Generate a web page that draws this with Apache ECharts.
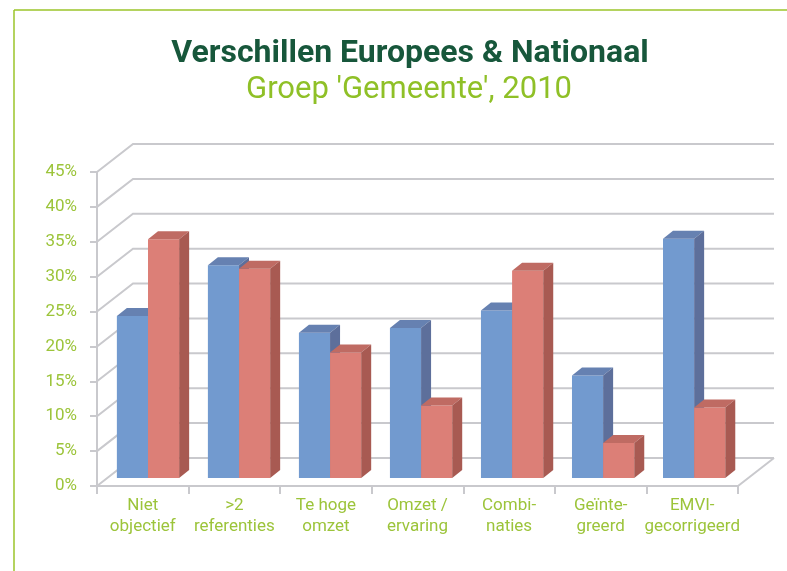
<!DOCTYPE html>
<html>
<head>
<meta charset="utf-8">
<script src="https://cdn.jsdelivr.net/npm/echarts@6/dist/echarts.min.js"></script>
<style>
  html, body { margin: 0; padding: 0; background: #fff; }
  #chart { width: 787px; height: 571px; }
</style>
</head>
<body>
<div id="chart"></div>
<script>
// data
var categories = ['Niet\nobjectief', '>2\nreferenties', 'Te hoge\nomzet', 'Omzet /\nervaring',
                  'Combi-\nnaties', 'Geïnte-\ngreerd', 'EMVI-\ngecorrigeerd'];
var europees  = [0.232, 0.305, 0.208, 0.215, 0.240, 0.147, 0.343];
var nationaal = [0.342, 0.300, 0.180, 0.104, 0.297, 0.050, 0.101];
var yTicks = [0, 0.05, 0.10, 0.15, 0.20, 0.25, 0.30, 0.35, 0.40, 0.45];

var FONT = 'Roboto';
var GREEN = '#9cc43a';
var GRID = '#c9c9cd';
// depth of the 3d box (back wall) and of the bars
var WALL_DX = 36, WALL_DY = 28;
var BAR_DX = 10, BAR_DY = 8;
var BAR_SHRINK = 0.994; // bars sit a bit deeper, slightly tighter spacing

var chart = echarts.init(document.getElementById('chart'));

function wallRender(params, api) {
    var cs = params.coordSys;
    var v = api.value(1);
    var y = api.coord([0, v])[1];
    var x0 = cs.x, x1 = cs.x + cs.width;
    var children = [{
        type: 'polyline',
        shape: { points: [[x0, y], [x0 + WALL_DX, y - WALL_DY], [x1 + WALL_DX, y - WALL_DY]] },
        style: { stroke: GRID, lineWidth: 2, fill: null }
    }];
    if (v === 0) {
        children.push({
            type: 'line',
            shape: { x1: x1, y1: y, x2: x1 + WALL_DX, y2: y - WALL_DY },
            style: { stroke: GRID, lineWidth: 2 }
        });
    }
    return { type: 'group', children: children };
}

function barRender(startFrac, front, top, side) {
    return function (params, api) {
        var cs = params.coordSys;
        var i = api.value(0), v = api.value(1);
        var bw = api.size([1, 0])[0];
        var base = api.coord([i, 0]);
        var tp = api.coord([i, v]);
        var cx = cs.x + (base[0] - cs.x) * BAR_SHRINK;
        var x = cx + startFrac * bw, w = 0.34 * bw;
        var yb = base[1] - BAR_DY, yt = tp[1] - BAR_DY;
        return {
            type: 'group',
            children: [
                { type: 'rect', shape: { x: x, y: yt, width: w, height: yb - yt }, style: { fill: front } },
                { type: 'polygon', shape: { points: [[x, yt], [x + w, yt], [x + w + BAR_DX, yt - BAR_DY], [x + BAR_DX, yt - BAR_DY]] }, style: { fill: top } },
                { type: 'polygon', shape: { points: [[x + w, yt], [x + w + BAR_DX, yt - BAR_DY], [x + w + BAR_DX, yb - BAR_DY], [x + w, yb]] }, style: { fill: side } }
            ]
        };
    };
}

chart.setOption({
    animation: false,
    graphic: [
        { type: 'line', shape: { x1: 14, y1: 10, x2: 787, y2: 10 }, style: { stroke: '#9bc52a', lineWidth: 1.5 } },
        { type: 'line', shape: { x1: 14, y1: 10, x2: 14, y2: 571 }, style: { stroke: '#9bc52a', lineWidth: 1.5 } },
        { type: 'text', x: 410, y: 54, style: { text: 'Verschillen Europees & Nationaal', fill: '#17573b',
            font: 'bold 32px ' + FONT, textAlign: 'center', textVerticalAlign: 'middle' } },
        { type: 'text', x: 409, y: 90, style: { text: "Groep 'Gemeente', 2010", fill: '#8fc027',
            font: '31px ' + FONT, textAlign: 'center', textVerticalAlign: 'middle' } }
    ],
    grid: { left: 97, right: 49, top: 172, bottom: 85 },
    xAxis: {
        type: 'category',
        data: categories,
        axisLine: { show: true, lineStyle: { color: GRID, width: 2 } },
        axisTick: { show: true, length: 8, lineStyle: { color: GRID, width: 2 } },
        axisLabel: { color: GREEN, fontFamily: FONT, fontSize: 17, lineHeight: 21, margin: 9, interval: 0 }
    },
    yAxis: {
        type: 'value',
        min: 0,
        max: 0.45,
        interval: 0.05,
        axisLine: { show: true, lineStyle: { color: GRID, width: 2 } },
        axisTick: { show: true, length: 7, lineStyle: { color: GRID, width: 2 } },
        splitLine: { show: false },
        axisLabel: {
            color: GREEN, fontFamily: FONT, fontSize: 17, margin: 20,
            formatter: function (v) { return Math.round(v * 100) + '%'; }
        }
    },
    series: [
        {
            type: 'custom', name: 'wall', z: 1, silent: true,
            renderItem: wallRender,
            data: yTicks.map(function (v) { return [0, v]; })
        },
        {
            type: 'custom', name: 'Europees', z: 2,
            renderItem: barRender(-0.28, '#729acf', '#6681b1', '#5d6f9b'),
            data: europees.map(function (v, i) { return [i, v]; })
        },
        {
            type: 'custom', name: 'Nationaal', z: 3,
            renderItem: barRender(0.06, '#dc7f77', '#bf6b63', '#a85a52'),
            data: nationaal.map(function (v, i) { return [i, v]; })
        }
    ]
});
</script>
</body>
</html>
